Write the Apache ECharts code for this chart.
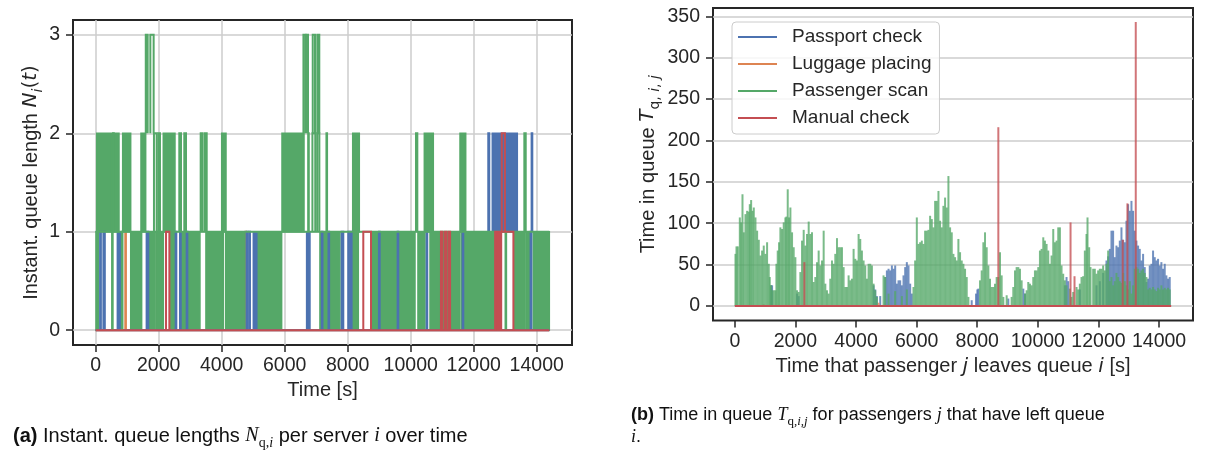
<!DOCTYPE html>
<html><head><meta charset="utf-8">
<script src="https://cdn.jsdelivr.net/npm/echarts@6/dist/echarts.min.js"></script>
<style>html,body{margin:0;padding:0;background:#fff}#c{width:1216px;height:452px}</style>
</head><body><div id="c"></div>
<script>
// ---------- DATA ----------
const seriesNames = ['Passport check', 'Luggage placing', 'Passenger scan', 'Manual check'];
const timeTicks = [0, 2000, 4000, 6000, 8000, 10000, 12000, 14000];
const queueTicks = [0, 1, 2, 3];
const waitTicks = [0, 50, 100, 150, 200, 250, 300, 350];

// (a) queue length N_q,i(t): spans [tStart, tEnd, lowLevel, highLevel]
// "Bands" = stretches where the queue toggles so quickly that the step line fills the span
// "Pulses" = single excursions of the step line
const passportQueueBands = [[688,794,0,1],[5004,5162,0,1],[6696,6802,0,1],[12590,13384,1,2]];
const passportQueuePulses = [[0,14400,0,0],[140,165,0,1],[245,290,0,1],[1617,1670,0,1],[2538,2560,0,1],[2676,2700,0,1],[2888,2910,0,1],[4792,4815,0,1],[4870,4898,0,1],[7180,7200,0,1],[7390,7410,0,1],[7808,7860,0,1],[8018,8040,0,1],[8100,8124,0,1],[8993,9015,0,1],[9585,9605,0,1],[10505,10525,0,1],[11648,11670,0,1],[13806,13830,0,1],[12462,12494,1,2],[13838,13860,1,2]];
const luggageQueuePulses = [[0,14400,0,0],[940,960,0,1],[4750,4770,0,1]];
const scanQueueBands = [[10,84,0,1],[1112,1459,0,1],[1670,1882,0,1],[1914,2147,0,1],[2360,2518,0,1],[2676,3310,0,1],[3500,4051,0,1],[4125,4739,0,1],[5162,5903,0,1],[7119,7754,0,1],[8124,8336,0,1],[8759,8971,0,1],[9025,9554,0,1],[9607,10136,0,1],[10230,10453,0,1],[10613,10930,0,1],[11000,11240,0,1],[11247,11565,0,1],[11619,12730,0,1],[13279,13628,0,1],[13660,13830,0,1],[13892,14400,0,1],
  [32,508,1,2],[540,740,1,2],[857,1111,1,2],[1438,1587,1,2],[2146,2517,1,2],[4000,4137,1,2],[5914,6613,1,2],[8159,8368,1,2],[10432,10717,1,2],[11565,11746,1,2]];
const scanQueuePulses = [[0,14400,1,1],[520,540,0,1],[830,850,0,1],[13010,13030,0,1],
  [555,575,1,2],[1850,1936,1,2],[1987,2041,1,2],[2654,2708,1,2],[2813,2867,1,2],[3333,3397,1,2],[3470,3524,1,2],[6745,6765,1,2],[6880,6970,1,2],[7030,7100,1,2],[7325,7345,1,2],[10168,10210,1,2],[13607,13651,1,2],
  [1590,1650,2,3],[1735,1840,2,3],[6595,6660,2,3],[6690,6740,2,3],[6890,6962,2,3],[7035,7098,2,3]];
const manualQueueBands = [[12720,12880,0,1]];
const manualQueuePulses = [[0,14400,0,0],[2233,2339,0,1],[8495,8740,0,1],[10960,11010,0,1],[11090,11130,0,1],[11200,11250,0,1],[12680,13260,0,1],[12890,12990,1,2]];

// (b) time in queue T_q,i,j: [time passenger leaves queue, waiting time]
const passportWait = [[1197,25],[1230,25],[2053,15],[2108,12],[4579,25],[4634,20],[4688,12],[4798,12],[4963,35],[5018,43],[5073,45],[5128,43],[5183,49],[5238,45],[5292,49],[5347,27],[5402,31],[5457,31],[5512,25],[5567,37],[5622,47],[5677,53],[5732,49],[5787,27],[5841,15],[7817,7],[7960,15],[8004,20],[8037,21],[9025,9],[9520,21],[9575,15],[10892,25],[10947,35],[11002,30],[11386,20],[11935,25],[12045,30],[12155,40],[12265,55],[12320,60],[12375,69],[12429,91],[12484,91],[12539,59],[12594,73],[12649,71],[12704,79],[12759,95],[12814,80],[12869,77],[12924,103],[12979,123],[13034,115],[13089,127],[13143,115],[13198,91],[13253,79],[13308,73],[13363,69],[13418,55],[13473,63],[13528,47],[13583,29],[13638,33],[13693,49],[13748,51],[13802,67],[13857,59],[13912,55],[13967,57],[14022,49],[14077,53],[14132,45],[14187,51],[14242,37],[14297,33],[14352,35]];
const luggageWait = [[950,2],[4743,4]];
const scanWait = [[22,63],[55,72],[99,72],[165,107],[209,101],[253,135],[296,89],[351,111],[406,115],[461,114],[494,123],[538,128],[582,115],[626,119],[681,107],[736,91],[791,80],[845,61],[900,67],[955,73],[1010,63],[1065,77],[1120,51],[1153,35],[1197,25],[1230,19],[1285,19],[1340,19],[1373,51],[1416,67],[1460,77],[1504,95],[1559,93],[1614,101],[1669,107],[1702,108],[1746,141],[1790,107],[1834,119],[1889,89],[1943,71],[1998,59],[2053,19],[2108,17],[2163,41],[2218,79],[2273,92],[2328,73],[2383,87],[2438,102],[2492,87],[2547,89],[2602,29],[2657,35],[2712,53],[2767,67],[2822,49],[2877,55],[2932,91],[2987,27],[3041,19],[3096,15],[3151,33],[3206,55],[3261,51],[3316,63],[3371,82],[3426,71],[3481,71],[3536,71],[3590,47],[3645,23],[3700,23],[3755,37],[3810,31],[3865,33],[3920,69],[3975,57],[4030,55],[4085,87],[4139,81],[4194,67],[4249,55],[4304,49],[4359,33],[4414,51],[4469,51],[4524,49],[4579,27],[4634,19],[4688,11],[4908,37],[4963,35],[5073,15],[5292,18],[5512,12],[5677,20],[5896,23],[5951,55],[6006,107],[6061,75],[6116,77],[6171,79],[6225,75],[6280,91],[6335,91],[6390,92],[6445,109],[6500,105],[6555,95],[6610,127],[6665,127],[6720,139],[6774,103],[6829,95],[6884,121],[6939,131],[6994,119],[7049,157],[7104,95],[7159,89],[7214,63],[7269,59],[7323,55],[7378,81],[7433,65],[7488,55],[7543,51],[7598,45],[7653,35],[7708,11],[8092,31],[8147,43],[8202,77],[8257,89],[8312,71],[8367,49],[8421,33],[8476,23],[8531,23],[8586,27],[8641,35],[8696,35],[8751,65],[8806,37],[8861,11],[8971,13],[9135,11],[9190,23],[9245,43],[9300,47],[9355,47],[9410,45],[9465,31],[9575,15],[9630,19],[9684,29],[9739,27],[9794,25],[9849,35],[9904,43],[9959,43],[10014,47],[10069,67],[10124,69],[10179,83],[10233,79],[10288,75],[10343,67],[10398,51],[10453,61],[10508,93],[10563,77],[10618,79],[10673,95],[10728,95],[10782,49],[10837,39],[10892,31],[10947,25],[11057,21],[11112,11],[11167,17],[11277,23],[11331,20],[11386,27],[11441,35],[11496,36],[11551,67],[11606,87],[11639,107],[11694,71],[11738,47],[11826,45],[11880,45],[11935,39],[11990,43],[12045,45],[12100,45],[12155,49],[12210,43],[12265,51],[12320,67],[12375,30],[12429,35],[12484,25],[12539,30],[12594,40],[12649,35],[12704,30],[12759,28],[12814,40],[12869,30],[12924,25],[12979,20],[13034,30],[13089,15],[13143,25],[13198,45],[13253,47],[13308,45],[13363,40],[13418,43],[13473,45],[13528,40],[13583,35],[13638,20],[13693,22],[13748,20],[13802,23],[13857,20],[13912,18],[13967,22],[14022,20],[14077,25],[14132,20],[14187,22],[14242,20],[14297,22],[14352,20]];
const manualWait = [[2295,53],[8696,216],[11079,101],[11210,36],[12800,80],[12956,124],[13231,343]];
const stemBaseline = [[0,14400,0,0]];

// ---------- STYLE ----------
const COLORS = ['#4C72B0', '#DD8452', '#55A868', '#C44E52'];
const INK = '#262626';
const SANS = 'Liberation Sans, Arial, sans-serif';
const MATH = 'DejaVu Sans';
const SERIF = 'Liberation Serif, DejaVu Serif, serif';

function makeRich(size, base, mathFam, color) {
  const sub = Math.round(size * 0.7);
  const lh = size + 4;
  const pad = Math.round(size * 0.5);
  return {
    t: {fontSize: size, fontFamily: base, lineHeight: lh, verticalAlign: 'top', color},
    b: {fontSize: size, fontFamily: base, fontWeight: 'bold', lineHeight: lh, verticalAlign: 'top', color},
    mi: {fontSize: size, fontFamily: mathFam, fontStyle: 'italic', lineHeight: lh, verticalAlign: 'top', color},
    mr: {fontSize: size, fontFamily: mathFam, lineHeight: lh, verticalAlign: 'top', color},
    sub: {fontSize: sub, fontFamily: mathFam, lineHeight: sub, padding: [pad, 0, 0, 0], verticalAlign: 'top', color},
    subi: {fontSize: sub, fontFamily: mathFam, fontStyle: 'italic', lineHeight: sub, padding: [pad, 0, 0, 0], verticalAlign: 'top', color}
  };
}
const axisRich = makeRich(20, SANS, MATH, INK);
const capRichA = makeRich(20, SANS, SERIF, '#111');
const capRichB = makeRich(18, SANS, SERIF, '#111');

function bandItem(color) {
  return function (params, api) {
    const p0 = api.coord([api.value(0), api.value(3)]);
    const p1 = api.coord([api.value(1), api.value(2)]);
    return {type: 'rect', shape: {x: p0[0], y: p0[1], width: Math.max(p1[0] - p0[0], 1), height: p1[1] - p0[1]},
      style: {fill: color, stroke: color, lineWidth: 1.5}};
  };
}
function pulseItem(color, lw) {
  return function (params, api) {
    const a = api.coord([api.value(0), api.value(2)]);
    const b = api.coord([api.value(0), api.value(3)]);
    const c = api.coord([api.value(1), api.value(3)]);
    const d = api.coord([api.value(1), api.value(2)]);
    return {type: 'polyline', shape: {points: [a, b, c, d]}, style: {fill: null, stroke: color, lineWidth: lw, lineJoin: 'miter'}};
  };
}
function stemItem(color) {
  return function (params, api) {
    const top = api.coord([api.value(0), api.value(1)]);
    const base = api.coord([api.value(0), 0]);
    return {type: 'line', shape: {x1: base[0], y1: base[1], x2: top[0], y2: top[1]},
      style: {stroke: color, lineWidth: 2, opacity: 0.78}};
  };
}
const plain = v => String(v);

function xAxisCfg(grid, name, gap, split) {
  return {
    type: 'value', gridIndex: grid, min: -720, max: 15120,
    name, nameLocation: 'middle', nameGap: gap, nameTextStyle: {rich: axisRich},
    axisLine: {show: false, onZero: false},
    axisTick: {show: true, length: 7, customValues: timeTicks, lineStyle: {color: INK, width: 1.5}},
    axisLabel: {customValues: timeTicks, formatter: plain, margin: 11, color: INK, fontSize: 19.5, fontFamily: SANS},
    splitLine: {show: split, lineStyle: {color: '#cccccc', width: 1.5}}
  };
}
function yAxisCfg(grid, min, max, ticks, name, gap) {
  return {
    type: 'value', gridIndex: grid, min, max,
    name, nameLocation: 'middle', nameGap: gap, nameRotate: 90, nameTextStyle: {rich: axisRich},
    axisLine: {show: false, onZero: false},
    axisTick: {show: true, length: 7, customValues: ticks, lineStyle: {color: INK, width: 1.5}},
    axisLabel: {customValues: ticks, formatter: plain, margin: 13, color: INK, fontSize: 19.5, fontFamily: SANS},
    splitLine: {show: true, lineStyle: {color: '#cccccc', width: 1.5}}
  };
}

const series = [];
function custom(name, grid, data, render, color) {
  series.push({type: 'custom', name, xAxisIndex: grid, yAxisIndex: grid, data, renderItem: render,
    itemStyle: {color}, encode: {x: grid === 0 ? [0, 1] : 0, y: grid === 0 ? [2, 3] : 1}, silent: true, animation: false});
}
// left panel
custom(seriesNames[0], 0, passportQueueBands, bandItem(COLORS[0]), COLORS[0]);
custom(seriesNames[1], 0, luggageQueuePulses, pulseItem(COLORS[1], 2), COLORS[1]);
custom(seriesNames[2], 0, scanQueueBands, bandItem(COLORS[2]), COLORS[2]);
custom(seriesNames[0], 0, passportQueuePulses, pulseItem(COLORS[0], 2), COLORS[0]);
custom(seriesNames[2], 0, scanQueuePulses, pulseItem(COLORS[2], 2), COLORS[2]);
custom(seriesNames[3], 0, manualQueueBands, bandItem(COLORS[3]), COLORS[3]);
custom(seriesNames[3], 0, manualQueuePulses, pulseItem(COLORS[3], 2), COLORS[3]);
// right panel
custom(seriesNames[0], 1, passportWait, stemItem(COLORS[0]), COLORS[0]);
custom(seriesNames[1], 1, luggageWait, stemItem(COLORS[1]), COLORS[1]);
custom(seriesNames[2], 1, scanWait, stemItem(COLORS[2]), COLORS[2]);
custom(seriesNames[3], 1, manualWait, stemItem(COLORS[3]), COLORS[3]);
series.push({type: 'custom', name: seriesNames[3], xAxisIndex: 1, yAxisIndex: 1, data: stemBaseline,
  renderItem: pulseItem(COLORS[3], 2.2), itemStyle: {color: COLORS[3]}, encode: {x: [0, 1], y: [2, 3]}, silent: true, animation: false});

const chart = echarts.init(document.getElementById('c'), null, {renderer: 'canvas'});
chart.setOption({
  backgroundColor: '#ffffff',
  animation: false,
  grid: [
    {left: 73, top: 20, width: 499, height: 325, show: true, borderColor: INK, borderWidth: 2, backgroundColor: 'transparent'},
    {left: 713, top: 8, width: 480, height: 312.5, show: true, borderColor: INK, borderWidth: 2, backgroundColor: 'transparent'}
  ],
  xAxis: [
    xAxisCfg(0, '{t|Time [s]}', 33, true),
    xAxisCfg(1, '{t|Time that passenger }{mi|j}{t| leaves queue }{mi|i}{t| [s]}', 36, false)
  ],
  yAxis: [
    yAxisCfg(0, -0.15, 3.15, queueTicks, '{t|Instant. queue length }{mi|N}{subi|i}{mr|(}{mi|t}{mr|)}', 25),
    yAxisCfg(1, -17.5, 360, waitTicks, '{t|Time in queue }{mi|T}{sub|q, }{subi|i}{sub|, }{subi|j}', 51)
  ],
  legend: {
    left: 732, top: 22, orient: 'vertical', selectedMode: false,
    data: seriesNames.map(n => ({name: n, icon: 'rect'})),
    itemWidth: 39, itemHeight: 2, itemGap: 7,
    textStyle: {fontSize: 19, color: INK, fontFamily: SANS, padding: [0, 0, 0, 10], lineHeight: 20},
    backgroundColor: 'rgba(255,255,255,0.8)', borderColor: '#cccccc', borderWidth: 1, borderRadius: 4,
    padding: [5, 8, 6, 6]
  },
  title: [
    {left: 8, top: 421, text: '{b|(a)}{t| Instant. queue lengths }{mi|N}{sub|q,}{subi|i}{t| per server }{mi|i}{t| over time}',
      textStyle: {rich: capRichA, fontWeight: 'normal'}},
    {left: 626, top: 401, text: '{b|(b)}{t| Time in queue }{mi|T}{sub|q,}{subi|i,j}{t| for passengers }{mi|j}{t| that have left queue}\n{mi|i}{t|.}',
      textStyle: {rich: capRichB, fontWeight: 'normal'}}
  ],
  series
});
</script></body></html>
